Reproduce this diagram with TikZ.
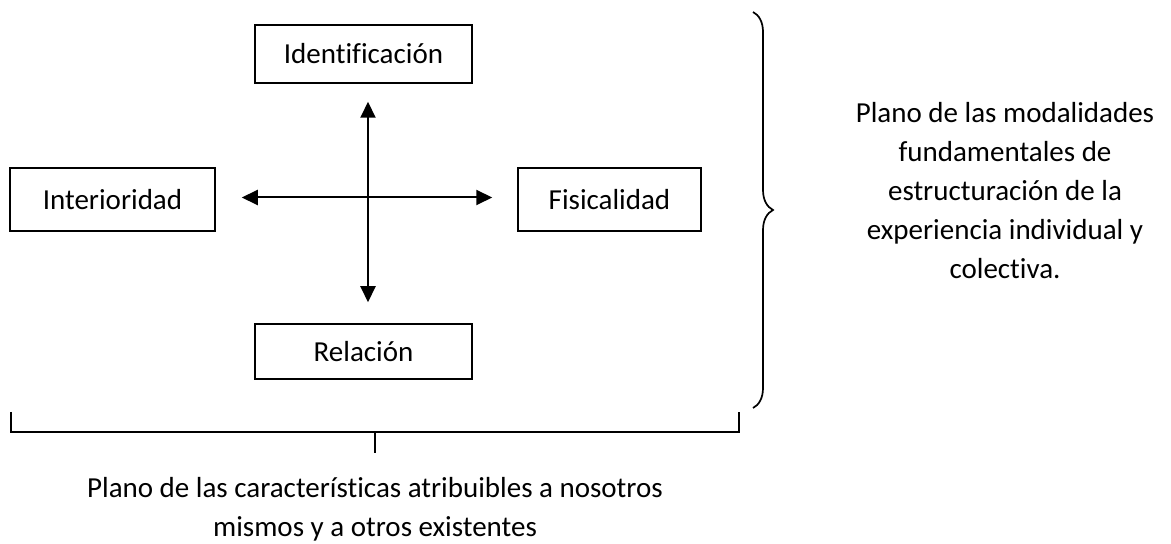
\documentclass[tikz,border=0pt]{standalone}
\usepackage{fontspec}
\setmainfont[Ligatures=NoCommon]{Carlito}
\usetikzlibrary{arrows.meta,decorations.pathreplacing}
\tikzset{
  caja/.style={draw,line width=0.75pt,inner sep=0pt,font=\fontsize{14.5}{19.5}\selectfont},
  flecha/.style={{Triangle[length=8pt,width=7.5pt]}-{Triangle[length=8pt,width=7.5pt]},line width=1pt},
  texto/.style={align=center,font=\fontsize{14.5}{19.5}\selectfont}
}
\begin{document}
\begin{tikzpicture}[x=0.5pt,y=-0.5pt] % plano de modalidades
  \useasboundingbox (0,0) rectangle (1171,544);
  % cajas
  \node[caja,minimum width=108.5pt,minimum height=29pt] (ident) at (363.5,54) {Identificación};
  \node[caja,minimum width=102.5pt,minimum height=31.5pt] (inter) at (112.5,199.5) {Interioridad};
  \node[caja,minimum width=91.5pt,minimum height=31.5pt] (fisic) at (609.5,199.5) {Fisicalidad};
  \node[caja,minimum width=108.5pt,minimum height=27.5pt] (relac) at (363.5,351.5) {Relación};
  % flechas
  \draw[flecha] ([xshift=13pt,yshift=1pt]inter.east) -- ([xshift=-12.5pt,yshift=1pt]fisic.west);
  \draw[flecha] ([xshift=2.25pt,yshift=-9pt]ident.south) -- ([xshift=2.25pt,yshift=10.5pt]relac.north);
  % llave derecha
  \draw[line width=0.85pt,decorate,decoration={brace,amplitude=10pt,aspect=0.5}] (753,12) -- (753,408);
  \node[texto] (modal) at (1005,191) {Plano de las modalidades\\fundamentales de\\estructuración de la\\experiencia individual y\\colectiva.};
  % corchete inferior
  \draw[line width=1pt] (11,412) |- (375,432) -| (739,412);
  \draw[line width=1pt] (375,432) -- (375,453);
  \node[texto] (caract) at (375,509) {Plano de las características atribuibles a nosotros\\mismos y a otros existentes};
\end{tikzpicture}
\end{document}
